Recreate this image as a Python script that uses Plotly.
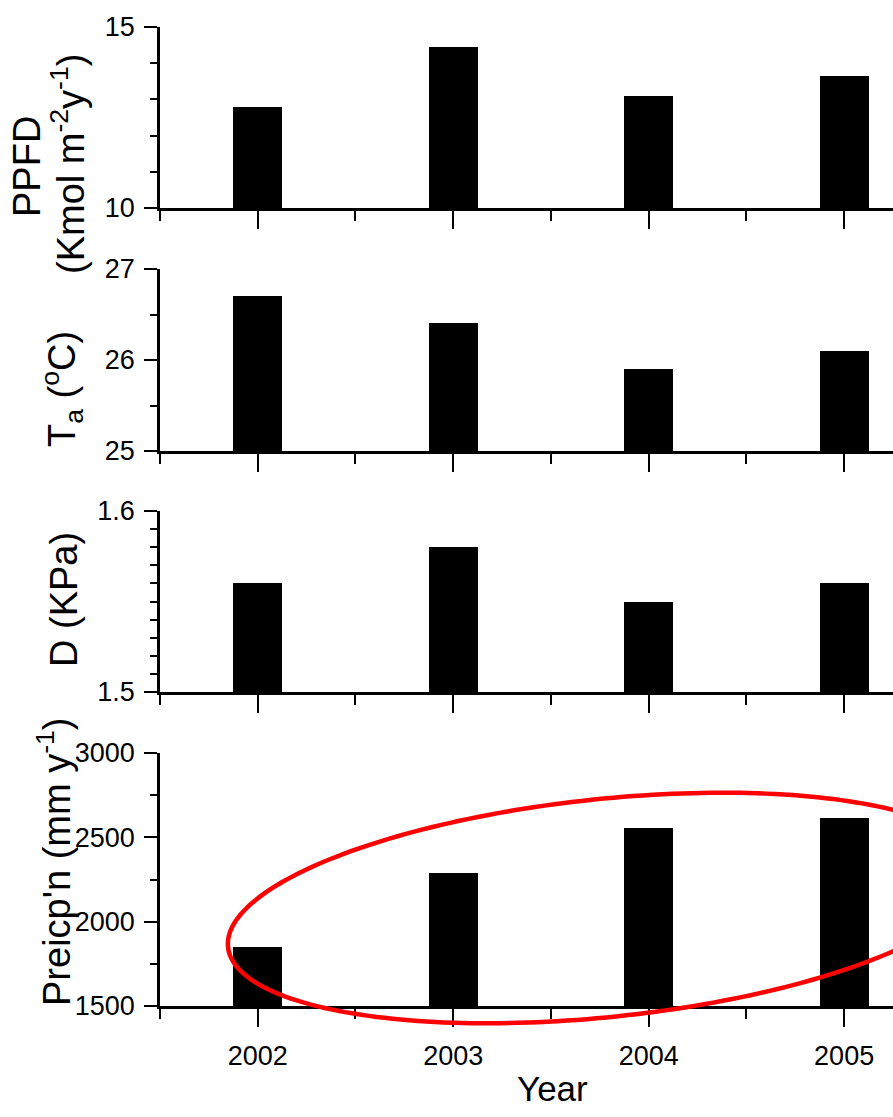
import numpy as np
import plotly.graph_objects as go

# ---- data ----
years = [2002, 2003, 2004, 2005]
ppfd = [12.8, 14.45, 13.1, 13.65]          # Kmol m-2 y-1
ta = [26.7, 26.41, 25.9, 26.1]             # deg C
vpd = [1.56, 1.58, 1.55, 1.56]             # KPa
precip = [1850, 2290, 2555, 2615]          # mm y-1

year_ticks = ["2002", "2003", "2004", "2005"]

W, H = 893, 1117
ML, MR, MT, MB = 160, 0, 27, 111
PW = W - ML - MR
PH = H - MT - MB

TICKFONT = "Liberation Sans, Arial, sans-serif"
ARIAL = "Liberation Sans, Arial, sans-serif"


def ydom(top, bottom):
    return [(H - MB - bottom) / PH, (H - MB - top) / PH]


def px_x(p):
    return (p - ML) / PW


def px_y(p):
    return (H - MB - p) / PH


panels = [
    dict(vals=ppfd, rng=[10, 15], dtick=5, minor=1, dom=ydom(27, 208)),
    dict(vals=ta, rng=[25, 27], dtick=1, minor=0.5, dom=ydom(269, 451)),
    dict(vals=vpd, rng=[1.5, 1.6], dtick=0.1, minor=0.01, dom=ydom(511, 692)),
    dict(vals=precip, rng=[1500, 3000], dtick=500, minor=250, dom=ydom(753, 1006)),
]

fig = go.Figure()
layout = dict(
    width=W, height=H,
    margin=dict(l=ML, r=MR, t=MT, b=MB, pad=0),
    paper_bgcolor="white", plot_bgcolor="white",
    showlegend=False,
    bargap=0,
)

for i, p in enumerate(panels):
    n = "" if i == 0 else str(i + 1)
    fig.add_trace(go.Bar(
        x=years, y=p["vals"], width=0.25,
        marker=dict(color="black", line=dict(width=0)),
        xaxis="x" + n, yaxis="y" + n,
    ))
    last = (i == len(panels) - 1)
    layout["xaxis" + n] = dict(
        domain=[0, 1], anchor="y" + n, range=[2001.5, 2005.25],
        tickmode="array", tickvals=years, ticktext=year_ticks,
        showticklabels=last,
        ticks="outside", ticklen=18, tickwidth=2, tickcolor="black",
        minor=dict(dtick=0.5, tick0=2001.5, ticks="outside", ticklen=10,
                   tickwidth=2, tickcolor="black"),
        showline=True, linewidth=3, linecolor="black",
        showgrid=False, zeroline=False,
        tickfont=dict(family=TICKFONT, size=27, color="black"),
        ticklabelstandoff=6,
        fixedrange=True,
    )
    layout["yaxis" + n] = dict(
        domain=p["dom"], anchor="x" + n, range=p["rng"],
        tick0=p["rng"][0], dtick=p["dtick"],
        ticks="outside", ticklen=13, tickwidth=2, tickcolor="black",
        minor=dict(dtick=p["minor"], tick0=p["rng"][0], ticks="outside",
                   ticklen=7, tickwidth=2, tickcolor="black"),
        showline=True, linewidth=2.5, linecolor="black",
        showgrid=False, zeroline=False,
        tickfont=dict(family=TICKFONT, size=27, color="black"),
        ticklabelstandoff=4,
        fixedrange=True,
    )

fig.update_layout(**layout)

# axis titles as rotated annotations
titles = [
    ("PPFD", 27, 167),
    ("(Kmol m<sup>-2</sup>y<sup>-1</sup>)", 68, 164),
    ("T<sub>a</sub> (<sup>o</sup>C)", 62, 389),
    ("D (KPa)", 64, 600),
    ("Preicp'n (mm y<sup>-1</sup>)", 54, 862),
]
for txt, x, y in titles:
    fig.add_annotation(
        text=txt, xref="paper", yref="paper", x=px_x(x), y=px_y(y),
        xanchor="center", yanchor="middle", textangle=-90, showarrow=False,
        font=dict(family=ARIAL, size=38, color="black"),
    )

fig.add_annotation(
    text="Year", xref="paper", yref="paper", x=px_x(552), y=px_y(1088),
    xanchor="center", yanchor="middle", showarrow=False,
    font=dict(family=TICKFONT, size=35, color="black"),
)

# red highlight ellipse (pixel-space parameters)
cx, cy, a, b, th = 605, 908, 379, 109, np.deg2rad(-5.93)
t = np.linspace(0, 2 * np.pi, 241)
ex = cx + a * np.cos(th) * np.cos(t) - b * np.sin(th) * np.sin(t)
ey = cy + a * np.sin(th) * np.cos(t) + b * np.cos(th) * np.sin(t)
path = "M " + " L ".join(f"{px_x(X):.5f},{px_y(Y):.5f}" for X, Y in zip(ex, ey)) + " Z"
fig.add_shape(type="path", path=path, xref="paper", yref="paper",
              line=dict(color="#ff0000", width=4.5), layer="above")

fig.write_html("out.html")
